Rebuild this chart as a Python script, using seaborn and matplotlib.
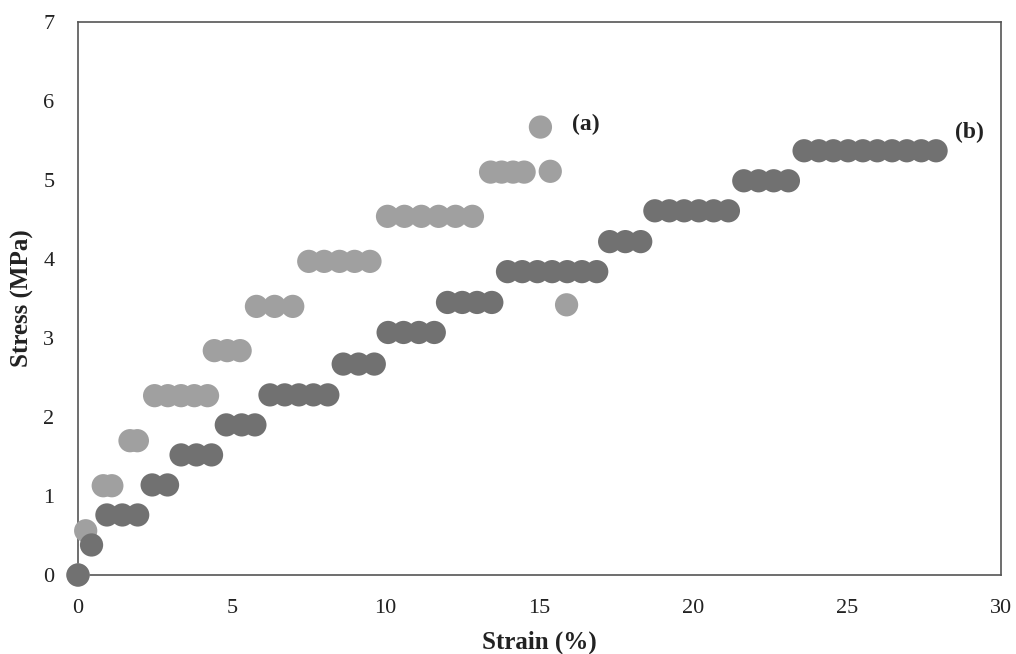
import matplotlib
matplotlib.use("Agg")
import matplotlib.pyplot as plt
import seaborn as sns
import pandas as pd

# Series (a) - light grey
strain_a = [0.0, 0.25, 0.82, 1.10, 1.69, 1.93,
            2.49, 2.92, 3.35, 3.78, 4.21,
            4.43, 4.85, 5.27,
            5.80, 6.39, 6.98,
            7.50, 8.00, 8.50, 8.99, 9.49,
            10.06, 10.61, 11.16, 11.72, 12.27, 12.82,
            13.41, 13.77, 14.14, 14.50,
            15.03, 15.35, 15.88]
stress_a = [0.0, 0.56, 1.13, 1.13, 1.70, 1.70,
            2.27, 2.27, 2.27, 2.27, 2.27,
            2.84, 2.84, 2.84,
            3.40, 3.40, 3.40,
            3.97, 3.97, 3.97, 3.97, 3.97,
            4.54, 4.54, 4.54, 4.54, 4.54, 4.54,
            5.10, 5.10, 5.10, 5.10,
            5.67, 5.11, 3.42]

# Series (b) - dark grey
strain_b = [0.0, 0.44, 0.94, 1.44, 1.94, 2.41, 2.91,
            3.35, 3.85, 4.34, 4.82, 5.32, 5.75,
            6.24, 6.72, 7.18, 7.65, 8.12,
            8.62, 9.12, 9.63,
            10.08, 10.58, 11.08, 11.58,
            12.01, 12.49, 12.97, 13.45,
            13.96, 14.44, 14.93, 15.41, 15.90, 16.38, 16.86,
            17.28, 17.79, 18.29,
            18.75, 19.22, 19.70, 20.18, 20.66, 21.14,
            21.64, 22.12, 22.61, 23.09,
            23.60, 24.08, 24.55, 25.03, 25.51, 25.98, 26.46, 26.94, 27.41, 27.89]
stress_b = [0.0, 0.38, 0.76, 0.76, 0.76, 1.14, 1.14,
            1.52, 1.52, 1.52, 1.90, 1.90, 1.90,
            2.28, 2.28, 2.28, 2.28, 2.28,
            2.67, 2.67, 2.67,
            3.07, 3.07, 3.07, 3.07,
            3.45, 3.45, 3.45, 3.45,
            3.84, 3.84, 3.84, 3.84, 3.84, 3.84, 3.84,
            4.22, 4.22, 4.22,
            4.61, 4.61, 4.61, 4.61, 4.61, 4.61,
            4.99, 4.99, 4.99, 4.99,
            5.37, 5.37, 5.37, 5.37, 5.37, 5.37, 5.37, 5.37, 5.37, 5.37]

x_ticks = [0, 5, 10, 15, 20, 25, 30]
y_ticks = [0, 1, 2, 3, 4, 5, 6, 7]

sns.set_style("white")
plt.rcParams['font.family'] = ['Liberation Serif', 'DejaVu Serif']

fig = plt.figure(figsize=(10.16, 6.54), dpi=100)
ax = fig.add_axes([78/1016, 1-575/654, (1001-78)/1016, (575-22)/654])

df_a = pd.DataFrame({"strain": strain_a, "stress": stress_a})
df_b = pd.DataFrame({"strain": strain_b, "stress": stress_b})

sns.scatterplot(data=df_a, x="strain", y="stress", ax=ax, color="#a0a0a0",
                s=280, linewidth=0, edgecolor="none", clip_on=False, zorder=3, legend=False)
sns.scatterplot(data=df_b, x="strain", y="stress", ax=ax, color="#717171",
                s=280, linewidth=0, edgecolor="none", clip_on=False, zorder=4, legend=False)

ax.set_xlim(0, 30)
ax.set_ylim(0, 7)
ax.set_xticks(x_ticks)
ax.set_yticks(y_ticks)
ax.set_xticklabels([str(v) for v in x_ticks])
ax.set_yticklabels([str(v) for v in y_ticks])

for sp in ax.spines.values():
    sp.set_visible(True)
    sp.set_color("#555555")
    sp.set_linewidth(1.2)

ax.tick_params(axis="both", direction="in", length=5, width=1.0, color="#555555",
               labelsize=16, labelcolor="#222222")
ax.tick_params(axis="y", pad=17)
ax.tick_params(axis="x", pad=17)

ax.set_xlabel("Strain (%)", fontsize=18, fontweight="bold", color="#222222", labelpad=9)
ax.set_ylabel("Stress (MPa)", fontsize=18, fontweight="bold", color="#222222", labelpad=7)

ax.text(16.05, 5.7, "(a)", fontsize=17, fontweight="bold", color="#222222",
        ha="left", va="center")
ax.text(28.5, 5.6, "(b)", fontsize=17, fontweight="bold", color="#222222",
        ha="left", va="center")

fig.savefig("out.png", dpi=100)
